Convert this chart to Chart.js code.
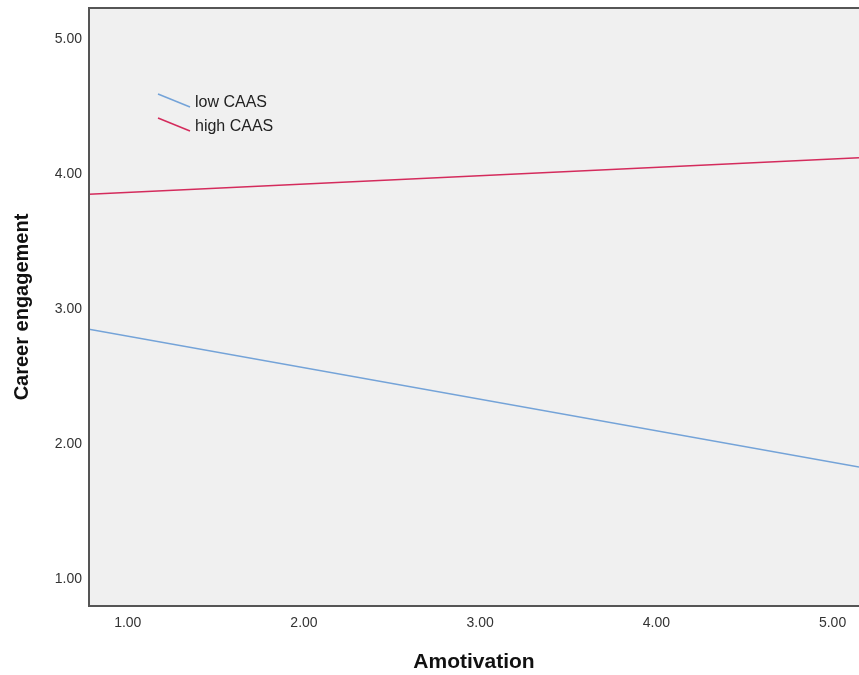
<!DOCTYPE html>
<html>
<head>
<meta charset="utf-8">
<script src="https://cdn.jsdelivr.net/npm/chart.js@4/dist/chart.umd.min.js"></script>
<style>
  html, body { margin: 0; padding: 0; background: #fff; overflow: hidden; }
  #wrap { width: 859px; height: 675px; }
</style>
</head>
<body>
<div id="wrap"><canvas id="plot"></canvas></div>
<script>
// x range of the fitted lines (ends of the visible plot)
const amotivation = [0.78, 5.15];
const lowCAAS = [2.85, 1.83];
const highCAAS = [3.85, 4.12];
const seriesNames = ["low CAAS", "high CAAS"];
const seriesColors = ["#74a3d8", "#d42b5c"];
const tickValues = [1, 2, 3, 4, 5];

function toPoints(xs, ys) {
    return xs.map(function (x, i) { return { x: x, y: ys[i] }; });
}

// grey plot background plus the frame SPSS draws
const frame = {
    id: "frame",
    beforeDraw: function (chart) {
        const a = chart.chartArea;
        const ctx = chart.ctx;
        ctx.save();
        ctx.fillStyle = "#f0f0f0";
        ctx.fillRect(a.left, a.top, a.right - a.left, a.bottom - a.top);
        ctx.restore();
    },
    afterDraw: function (chart) {
        const a = chart.chartArea;
        const ctx = chart.ctx;
        ctx.save();
        ctx.strokeStyle = "#555";
        ctx.lineWidth = 2;
        ctx.beginPath();
        ctx.moveTo(a.right + 2, a.top);
        ctx.lineTo(a.left, a.top);
        ctx.lineTo(a.left, a.bottom);
        ctx.lineTo(a.right + 2, a.bottom);
        ctx.stroke();
        ctx.restore();
    }
};

// legend inside the plot with slanted line keys
const slantLegend = {
    id: "slantLegend",
    afterDatasetsDraw: function (chart) {
        const ctx = chart.ctx;
        ctx.save();
        ctx.font = "16px 'Liberation Sans', Arial, sans-serif";
        ctx.textBaseline = "middle";
        seriesNames.forEach(function (name, i) {
            const y = 101 + i * 24;
            ctx.strokeStyle = seriesColors[i];
            ctx.lineWidth = 1.5;
            ctx.beginPath();
            ctx.moveTo(158, y - 7);
            ctx.lineTo(190, y + 6);
            ctx.stroke();
            ctx.fillStyle = "#222";
            ctx.fillText(name, 195, y + 2);
        });
        ctx.restore();
    }
};

const tickFont = { family: "'Liberation Sans', Arial, sans-serif", size: 14 };

function noEdgePadding(scale) {
    scale.paddingTop = 0;
    scale.paddingBottom = 0;
    scale.paddingLeft = 0;
    scale.paddingRight = 0;
}

new Chart(document.getElementById("plot"), {
    type: "line",
    data: {
        datasets: [
            {
                label: seriesNames[0],
                data: toPoints(amotivation, lowCAAS),
                borderColor: seriesColors[0],
                borderWidth: 1.5,
                pointRadius: 0
            },
            {
                label: seriesNames[1],
                data: toPoints(amotivation, highCAAS),
                borderColor: seriesColors[1],
                borderWidth: 1.5,
                pointRadius: 0
            }
        ]
    },
    options: {
        responsive: true,
        maintainAspectRatio: false,
        animation: false,
        layout: { padding: { top: 8, right: 0, left: 0, bottom: 0 } },
        plugins: {
            legend: { display: false },
            tooltip: { enabled: false }
        },
        scales: {
            x: {
                type: "linear",
                min: 0.78,
                max: 5.15,
                afterFit: function (scale) { scale.height = 69; noEdgePadding(scale); },
                afterBuildTicks: function (scale) {
                    scale.ticks = tickValues.map(function (v) { return { value: v }; });
                },
                grid: { display: false, drawTicks: false },
                border: { display: false },
                ticks: {
                    color: "#333",
                    font: tickFont,
                    padding: 9,
                    maxRotation: 0,
                    callback: function (v) { return v.toFixed(2); }
                },
                title: {
                    display: true,
                    text: "Amotivation",
                    color: "#111",
                    font: { family: "'Liberation Sans', Arial, sans-serif", size: 21, weight: "bold" },
                    padding: { top: 0, bottom: 0 }
                }
            },
            y: {
                type: "linear",
                min: 0.8,
                max: 5.23,
                afterFit: function (scale) { scale.width = 89; noEdgePadding(scale); },
                afterBuildTicks: function (scale) {
                    scale.ticks = tickValues.map(function (v) { return { value: v }; });
                },
                grid: { display: false, drawTicks: false },
                border: { display: false },
                ticks: {
                    color: "#333",
                    font: tickFont,
                    padding: 7,
                    callback: function (v) { return v.toFixed(2); }
                },
                title: {
                    display: true,
                    text: "Career engagement",
                    color: "#111",
                    font: { family: "'Liberation Sans', Arial, sans-serif", size: 20, weight: "bold" },
                    padding: { top: 10, bottom: 10 }
                }
            }
        }
    },
    plugins: [frame, slantLegend]
});
</script>
</body>
</html>
